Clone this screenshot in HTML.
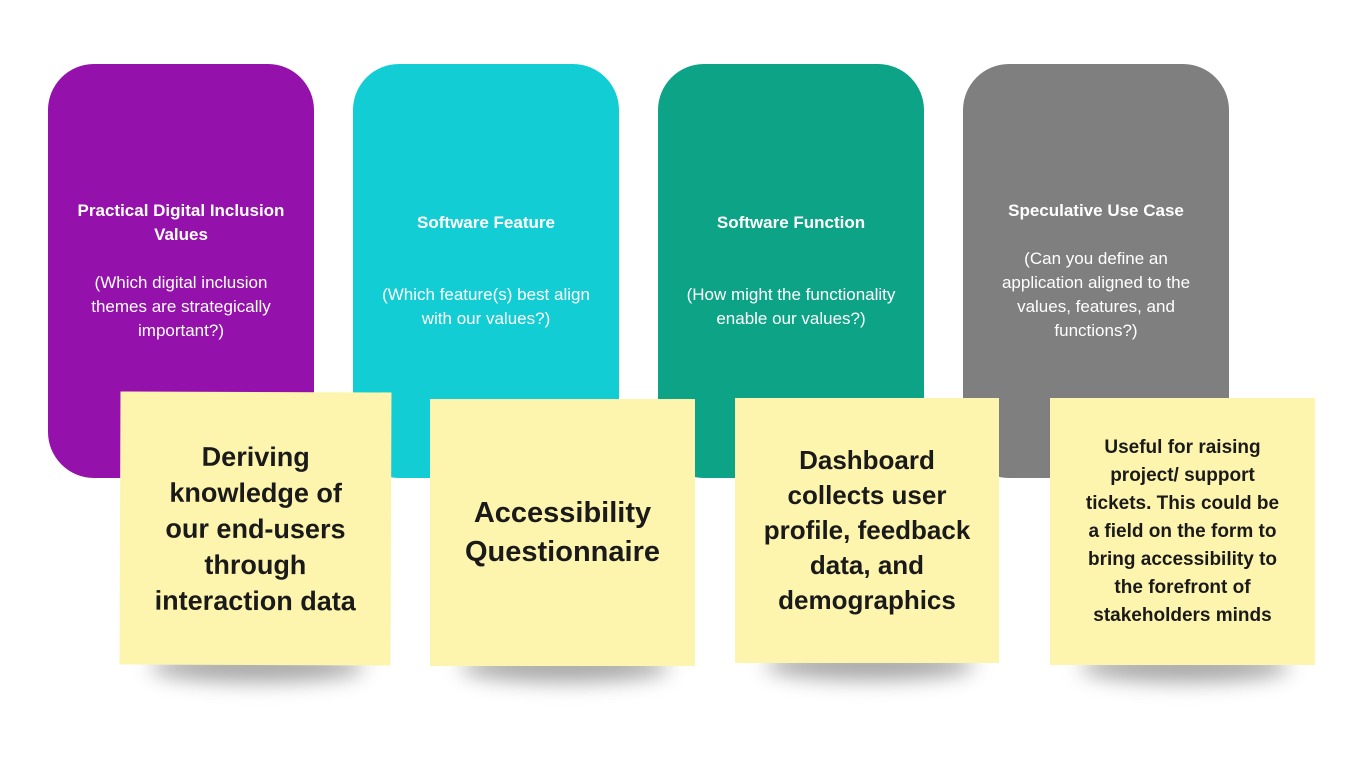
<!DOCTYPE html>
<html><head><meta charset="utf-8"><style>
body{margin:0;width:1372px;height:772px;background:#fff;position:relative;overflow:hidden;font-family:"Liberation Sans",sans-serif}
.card{position:absolute;top:64px;width:266px;height:414px;border-radius:46px;color:#fff;display:flex;align-items:center;justify-content:center;text-align:center;font-size:17px;line-height:24px;padding:0 22px;box-sizing:border-box}
.card b{display:block}
.note{position:absolute;background:#fdf5ae;display:flex;align-items:center;justify-content:center;text-align:center;font-weight:bold;color:#1a1a1a;box-sizing:border-box;padding:0 12px}
.sh{position:absolute;height:30px;border-radius:50%;background:rgba(0,0,0,0.35);filter:blur(10px)}
</style></head><body>
<div class="card" style="left:48px;background:#9511ab"><div><b>Practical Digital Inclusion Values</b><br>(Which digital inclusion themes are strategically important?)</div></div>
<div class="card" style="left:353px;background:#13cdd4"><div><b>Software Feature</b><br><br>(Which feature(s) best align with our values?)</div></div>
<div class="card" style="left:658px;background:#0ca386"><div><b>Software Function</b><br><br>(How might the functionality enable our values?)</div></div>
<div class="card" style="left:963px;background:#7f7f7f"><div><b>Speculative Use Case</b><br>(Can you define an application aligned to the values, features, and functions?)</div></div>

<div class="sh" style="left:150px;top:652px;width:215px"></div>
<div class="sh" style="left:460px;top:652px;width:210px"></div>
<div class="sh" style="left:765px;top:650px;width:210px"></div>
<div class="sh" style="left:1080px;top:652px;width:210px"></div>

<div class="note" style="left:120px;top:392px;width:271px;height:273px;font-size:27px;line-height:36px;transform:rotate(0.2deg)"><div>Deriving<br>knowledge of<br>our end-users<br>through<br>interaction data</div></div>
<div class="note" style="left:430px;top:399px;width:265px;height:267px;font-size:29px;line-height:39px"><div>Accessibility<br>Questionnaire</div></div>
<div class="note" style="left:735px;top:398px;width:264px;height:265px;font-size:26px;line-height:35px"><div>Dashboard<br>collects user<br>profile, feedback<br>data, and<br>demographics</div></div>
<div class="note" style="left:1050px;top:398px;width:265px;height:267px;font-size:19px;line-height:28px"><div>Useful for raising<br>project/ support<br>tickets. This could be<br>a field on the form to<br>bring accessibility to<br>the forefront of<br>stakeholders minds</div></div>
</body></html>
